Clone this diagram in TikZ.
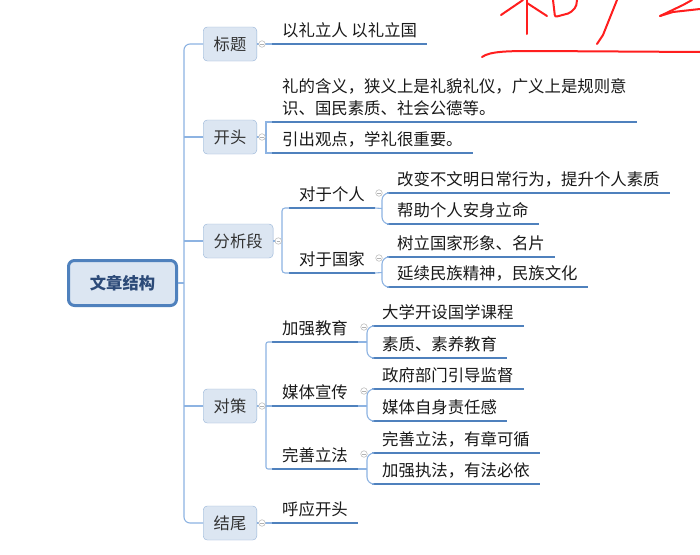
\documentclass[tikz,border=0pt]{standalone}
\usepackage{fontspec}
\setmainfont{Noto Sans CJK SC}
\usepackage{xcolor}
\definecolor{linecol}{RGB}{141,179,226}
\definecolor{ulcol}{RGB}{79,129,189}
\definecolor{boxfill}{RGB}{220,230,242}
\definecolor{boxdraw}{RGB}{149,179,215}
\definecolor{rootcol}{RGB}{79,129,189}
\definecolor{roottext}{RGB}{44,74,120}
\definecolor{inkcol}{RGB}{255,30,30}
\usepackage{tikz}
\usetikzlibrary{calc}

\begin{document}
\begin{tikzpicture}[x=1pt, y=-1pt,
  rootbox/.style={rectangle, rounded corners=6pt, draw=rootcol, line width=3pt, fill=boxfill,
                  minimum width=108pt, minimum height=45pt,
                  font=\fontsize{16.3}{19}\selectfont\bfseries, text=roottext},
  topic/.style={rectangle, rounded corners=4pt, draw=boxdraw, fill=boxfill, anchor=west,
                minimum width=53pt, minimum height=34pt, inner xsep=10.5pt,
                font=\fontsize{16.3}{19}\selectfont, text=black!80},
  leaf/.style={anchor=south west, inner xsep=10pt, inner ysep=7pt, text depth=0pt, align=left,
               font=\fontsize{16.4}{22}\selectfont, text=black!90},
  uline/.style={draw=ulcol, line width=2pt},
  conn/.style={draw=linecol, line width=1.1pt},
  fold/.style={circle, draw=black!25, fill=white, line width=0.6pt, inner sep=0pt, minimum size=6.5pt,
               path picture={\draw[black!30, line width=0.5pt]
                 ([xshift=-1.6pt]path picture bounding box.center) -- ([xshift=1.6pt]path picture bounding box.center);}},
  ink/.style={draw=inkcol, line width=2pt, line cap=round, line join=round}
]
\useasboundingbox[fill=white] (0,0) rectangle (700,554);

%% root
\node[rootbox] (root) at (122.5,283) {文章结构};
\coordinate (trunk) at (184,283);

%% main topics
\node[topic] (title) at (203,44)  {标题};
\node[topic] (open)  at (203,137) {开头};
\node[topic] (ana)   at (203,241) {分析段};
\node[topic] (ctr)   at (203,406) {对策};
\node[topic] (end)   at (203,523) {结尾};

%% leaves
\node[leaf] (title-a) at (272,44)  {以礼立人 以礼立国};
\node[leaf] (open-a)  at (272,122) {礼的含义，狭义上是礼貌礼仪，广义上是规则意\\识、国民素质、社会公德等。};
\node[leaf] (open-b)  at (272,153) {引出观点，学礼很重要。};

\node[leaf] (ana-a)  at (289,208) {对于个人};
\node[leaf] (ana-b)  at (289,273) {对于国家};
\node[leaf] (ana-a1) at (387,193) {改变不文明日常行为，提升个人素质};
\node[leaf] (ana-a2) at (387,224) {帮助个人安身立命};
\node[leaf] (ana-b1) at (387,257) {树立国家形象、名片};
\node[leaf] (ana-b2) at (387,287) {延续民族精神，民族文化};

\node[leaf] (ctr-a)  at (272,342) {加强教育};
\node[leaf] (ctr-b)  at (272,406) {媒体宣传};
\node[leaf] (ctr-c)  at (272,469) {完善立法};
\node[leaf] (ctr-a1) at (372,326) {大学开设国学课程};
\node[leaf] (ctr-a2) at (372,358) {素质、素养教育};
\node[leaf] (ctr-b1) at (372,389) {政府部门引导监督};
\node[leaf] (ctr-b2) at (372,421) {媒体自身责任感};
\node[leaf] (ctr-c1) at (372,453) {完善立法，有章可循};
\node[leaf] (ctr-c2) at (372,484) {加强执法，有法必依};

\node[leaf] (end-a) at (272,523) {呼应开头};

\foreach \n in {title-a,open-a,open-b,ana-a,ana-b,ana-a1,ana-a2,ana-b1,ana-b2,
                ctr-a,ctr-b,ctr-c,ctr-a1,ctr-a2,ctr-b1,ctr-b2,ctr-c1,ctr-c2,end-a}
  \draw[uline] (\n.south west) -- (\n.south east);

%% bracket points
\coordinate (open-br)  at (266,137);
\coordinate (ana-br)   at (282,241);
\coordinate (ana-a-br) at (382,208.5);
\coordinate (ana-b-br) at (382,272.5);
\coordinate (ctr-br)   at (266,406);
\coordinate (ctr-a-br) at (367,342);
\coordinate (ctr-b-br) at (367,406);
\coordinate (ctr-c-br) at (367,469);

%% connectors
\draw[conn, rounded corners=6pt] (title.west) -| (trunk) |- (end.west);
\draw[conn] (root.east) -- (trunk);
\foreach \t in {open,ana,ctr}
  \draw[conn] (trunk |- \t.west) -- (\t.west);

\draw[conn] (title.east) -- (title-a.south west);
\draw[conn] (end.east) -- (end-a.south west);

\draw[conn] (open.east) -- (open-br);
\draw[conn] (open-a.south west) -| (open-br) |- (open-b.south west);

\draw[conn] (ana.east) -- (ana-br);
\draw[conn, rounded corners=3pt] (ana-a.south west) -| (ana-br) |- (ana-b.south west);
\draw[conn] (ana-a.south east) -- (ana-a-br);
\draw[conn, rounded corners=7pt] (ana-a1.south west) -| (ana-a-br) |- (ana-a2.south west);
\draw[conn] (ana-b.south east) -- (ana-b-br);
\draw[conn, rounded corners=7pt] (ana-b1.south west) -| (ana-b-br) |- (ana-b2.south west);

\draw[conn] (ctr.east) -- (ctr-br);
\draw[conn, rounded corners=2pt] (ctr-a.south west) -| (ctr-br) |- (ctr-c.south west);
\draw[conn] (ctr-br) -- (ctr-b.south west);
\foreach \s in {a,b,c}{
  \draw[conn] (ctr-\s.south east) -- (ctr-\s-br);
  \draw[conn, rounded corners=7pt] (ctr-\s1.south west) -| (ctr-\s-br) |- (ctr-\s2.south west);
}

%% fold marks
\node[fold] (title-f) at ([xshift=5pt]title.east) {};
\node[fold] (open-f)  at ([xshift=5pt]open.east) {};
\node[fold] (ana-f)   at ([xshift=5pt]ana.east) {};
\node[fold] (ctr-f)   at ([xshift=5pt]ctr.east) {};
\node[fold] (end-f)   at ([xshift=5pt]end.east) {};
\node[fold] (ana-a-f) at ([xshift=4pt,yshift=15pt]ana-a.south east) {};
\node[fold] (ana-b-f) at ([xshift=4pt,yshift=15pt]ana-b.south east) {};
\node[fold] (ctr-a-f) at ([xshift=6pt,yshift=15pt]ctr-a.south east) {};
\node[fold] (ctr-b-f) at ([xshift=6pt,yshift=15pt]ctr-b.south east) {};
\node[fold] (ctr-c-f) at ([xshift=6pt,yshift=15pt]ctr-c.south east) {};

%% red pen marks
\draw[ink] (501,15) -- (523,0);
\draw[ink] (527,0) -- (527,34);
\draw[ink] (527,3) -- (547,16);
\draw[ink, rounded corners=2pt] (553,0) -- (555,17) -- (570,13) -- (576,7) -- (577,0);
\draw[ink] (617,0) -- (607,25) -- (603,35) -- (597,44);
\draw[ink] (660,16) -- (673,12) -- (700,9);
\draw[ink] (660,16) -- (683,5) -- (692,0);
\draw[ink] (482,57) .. controls (490,51) and (510,51) .. (537,51) -- (700,52);
\end{tikzpicture}
\end{document}
